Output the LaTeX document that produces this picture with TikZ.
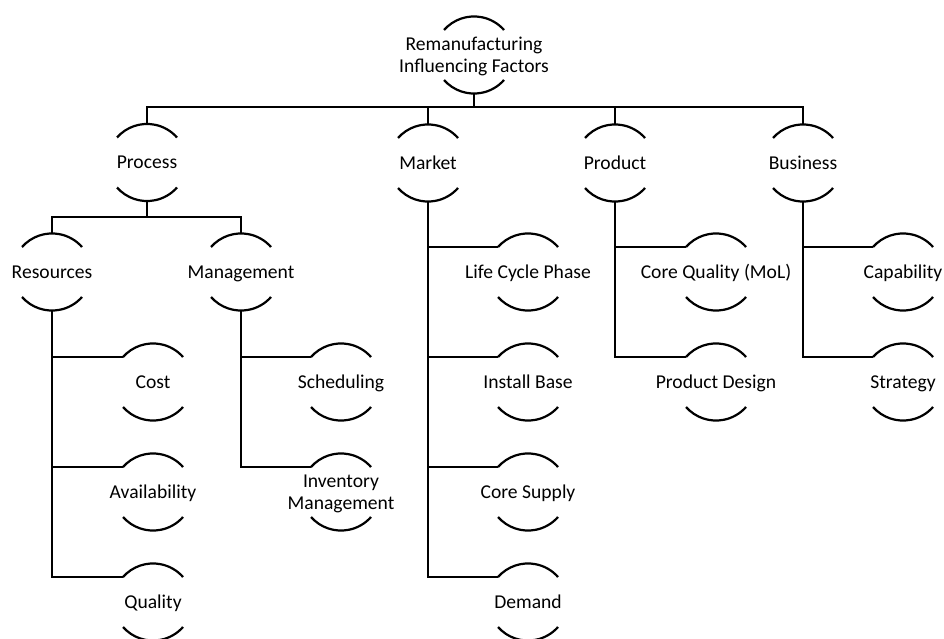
\documentclass[tikz,border=0pt]{standalone}
\usepackage{fontspec}
\setmainfont{Carlito}
\begin{document}
\begin{tikzpicture}[x=1pt,y=1pt,
  lbl/.style={inner sep=0pt,outer sep=0pt,font=\fontsize{19.6}{22}\selectfont,
              text height=12.4pt,text depth=0pt},
  lbltwo/.style={lbl,align=center,text height=34.4pt,text depth=0pt},
  link/.style={line width=2.8pt,black},
  capline/.style={line width=2.2pt,black}]
\useasboundingbox (0,0) rectangle (944,-639);
\clip (0,0) rectangle (944,-639);

% factor labels
\node[lbltwo] (top)   at (474,-55)    {Remanufacturing\\Influencing Factors};
\node[lbl]    (proc)  at (147,-162.5) {Process};
\node[lbl]    (mkt)   at (428,-163)   {Market};
\node[lbl]    (prod)  at (615,-163)   {Product};
\node[lbl]    (biz)   at (803,-163)   {Business};
\node[lbl]    (res)   at (52,-272)    {Resources};
\node[lbl]    (mgmt)  at (241,-272)   {Management};
\node[lbl]    (cost)  at (153,-382)   {Cost};
\node[lbl]    (avail) at (153,-492)   {Availability};
\node[lbl]    (qual)  at (153,-602)   {Quality};
\node[lbl]    (sched) at (341,-382)   {Scheduling};
\node[lbltwo] (invm)  at (341,-492)   {Inventory\\Management};
\node[lbl]    (lcp)   at (528,-272)   {Life Cycle Phase};
\node[lbl]    (inst)  at (528,-382)   {Install Base};
\node[lbl]    (csup)  at (528,-492)   {Core Supply};
\node[lbl]    (dem)   at (528,-602)   {Demand};
\node[lbl]    (cq)    at (716,-272)   {Core Quality (MoL)};
\node[lbl]    (pd)    at (716,-382)   {Product Design};
\node[lbl]    (capab) at (903,-272)   {Capability};
\node[lbl]    (strat) at (903,-382)   {Strategy};

% upper and lower arcs around every label
\foreach \n in {top,proc,mkt,prod,biz,res,mgmt,cost,avail,qual,sched,invm,
                lcp,inst,csup,dem,cq,pd,capab,strat}{
  \draw[capline] ([shift={(-30,25)}]\n.center)
    arc[start angle=138.6,end angle=41.4,radius=40pt];
  \draw[capline] ([shift={(-30,-25)}]\n.center)
    arc[start angle=-138.6,end angle=-41.4,radius=40pt];
}

% first level: bus below the root
\foreach \c in {proc,mkt,prod,biz}
  \draw[link] ([yshift=38.5]\c.center) |- ([yshift=-52]top.center)
              -- ([yshift=-38.5]top.center);

% second level below Process
\foreach \c in {res,mgmt}
  \draw[link] ([yshift=38.5]\c.center) |- ([yshift=-54.5]proc.center)
              -- ([yshift=-38.5]proc.center);

% side branches
\foreach \p/\c in {res/cost,res/avail,res/qual,mgmt/sched,mgmt/invm,
                   mkt/lcp,mkt/inst,mkt/csup,mkt/dem,prod/cq,prod/pd,
                   biz/capab,biz/strat}
  \draw[link] ([yshift=-38.5]\p.center) |- ([shift={(-30,25)}]\c.center);
\end{tikzpicture}
\end{document}
